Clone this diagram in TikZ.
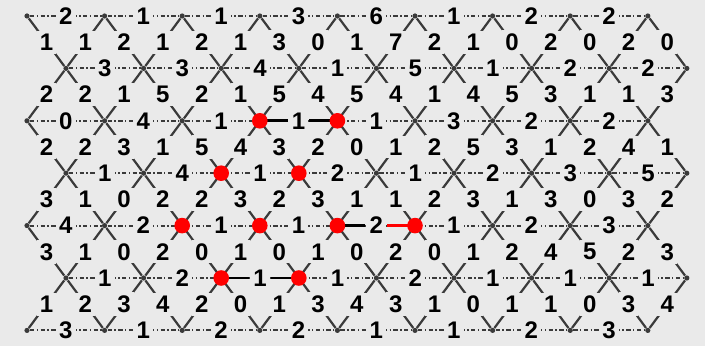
\documentclass[tikz,border=0pt]{standalone}
\usepackage{fontspec}
\setmainfont{Liberation Sans}
\definecolor{paper}{HTML}{EAEAEA}
\definecolor{wire}{HTML}{3A3A3A}

\begin{document}
\begin{tikzpicture}[
    x=0.5pt, y=-0.5pt,
    vtx/.style={circle, fill=wire, inner sep=0pt, minimum size=2.6pt},
    hit/.style={circle, fill=red, inner sep=0pt, minimum size=7.8pt},
    num/.style={fill=paper, text=black, inner sep=1.6pt, font=\fontsize{12}{12}\selectfont\bfseries},
    hline/.style={wire, line width=1pt, dash pattern=on 2.2pt off 1.2pt on 0.7pt off 1.2pt},
    dline/.style={wire, line width=1.1pt},
    walk/.style={black, line width=1.3pt},
    redwalk/.style={red, line width=1.3pt}
]
    \fill[paper] (0,0) rectangle (705,346);
    \useasboundingbox (0,0) rectangle (705,346);

    % lattice points
    \foreach \r in {0,...,6} {
        \pgfmathsetmacro\xo{mod(\r,2)==0 ? 27 : 66}
        \foreach \k in {0,...,8}
            \node[vtx] (v-\r-\k) at ({\xo+77.6*\k}, {16+52.4*\r}) {};
    }

    % horizontal edges
    \foreach \r/\labs in {0/{2,1,1,3,6,1,2,2}, 1/{3,3,4,1,5,1,2,2},
                          2/{0,4,1,1,1,3,2,2}, 3/{1,4,1,2,1,2,3,5},
                          4/{4,2,1,1,2,1,2,3}, 5/{1,2,1,1,2,1,1,1},
                          6/{3,1,2,2,1,1,2,3}} {
        \foreach \lab [count=\k from 0] in \labs {
            \pgfmathtruncatemacro\kk{\k+1}
            \draw[hline] (v-\r-\k) -- node[num] (h-\r-\k) {\lab} (v-\r-\kk);
        }
    }

    % diagonal edges
    \foreach \up/\lo/\labs in {0/1/{1,1,2,1,2,1,3,0,1,7,2,1,0,2,0,2,0},
                               1/2/{2,2,1,5,2,1,5,4,5,4,1,4,5,3,1,1,3},
                               2/3/{2,2,3,1,5,4,3,2,0,1,2,5,3,1,2,4,1},
                               3/4/{3,1,0,2,2,3,2,3,1,1,2,3,1,3,0,3,2},
                               4/5/{3,1,0,2,0,1,0,1,0,2,0,1,2,4,5,2,3},
                               5/6/{1,2,3,4,2,0,1,3,4,3,1,0,1,1,0,3,4}} {
        \foreach \lab [count=\j from 0] in \labs {
            \pgfmathtruncatemacro\ei{(\j+1)/2}
            \pgfmathtruncatemacro\oi{\j/2}
            \pgfmathtruncatemacro\ui{mod(\up,2)==0 ? \ei : \oi}
            \pgfmathtruncatemacro\li{mod(\up,2)==0 ? \oi : \ei}
            \draw[dline] (v-\up-\ui) -- node[num] (d-\up-\j) {\lab} (v-\lo-\li);
        }
    }

    % chosen path
    \draw[walk] (v-2-3) -- (h-2-3);
    \draw[walk] (h-2-3) -- (v-2-4);
    \draw[walk] (v-5-2) -- (h-5-2);
    \draw[walk] (h-5-2) -- (v-5-3);
    \draw[walk] (v-4-4) -- (h-4-4);
    \draw[redwalk] (h-4-4) -- (v-4-5);

    \foreach \r/\k in {2/3, 2/4, 3/2, 3/3, 4/2, 4/3, 4/4, 4/5, 5/2, 5/3}
        \node[hit] (hit-\r-\k) at (v-\r-\k) {};
\end{tikzpicture}
\end{document}
